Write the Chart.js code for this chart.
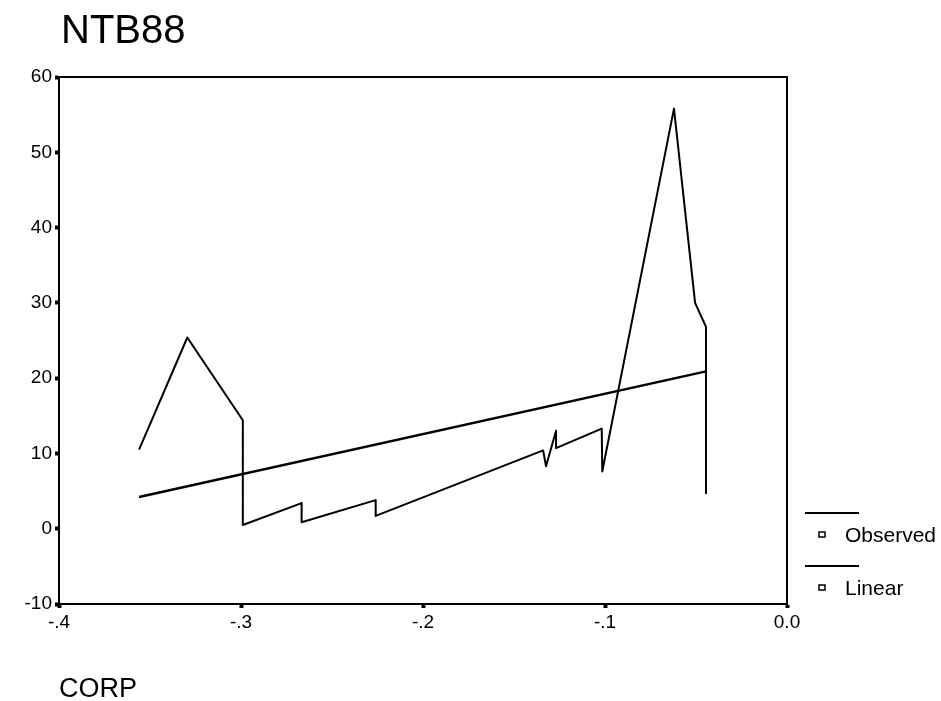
<!DOCTYPE html>
<html>
<head>
<meta charset="utf-8">
<title>NTB88</title>
<script src="https://cdn.jsdelivr.net/npm/chart.js@4/dist/chart.umd.min.js"></script>
<style>
  html, body { margin: 0; padding: 0; background: #fff; }
  canvas { display: block; }
</style>
</head>
<body>
<canvas id="chart" width="941" height="701"></canvas>
<script>
// values
const obsX = [-0.356, -0.3295, -0.299, -0.299, -0.2667, -0.2667, -0.226, -0.226, -0.134, -0.1324, -0.1269, -0.1269, -0.1018, -0.1015, -0.0621, -0.0505, -0.0445, -0.0445];
const obsY = [10.5, 25.4, 14.4, 0.5, 3.4, 0.85, 3.8, 1.7, 10.4, 8.3, 13.0, 10.7, 13.3, 7.6, 55.8, 30.0, 26.8, 4.7];
const linX = [-0.356, -0.0445];
const linY = [4.2, 20.9];
const xTickLabels = ["-.4", "-.3", "-.2", "-.1", "0.0"];
const yTickLabels = ["-10", "0", "10", "20", "30", "40", "50", "60"];
const seriesNames = ["Observed", "Linear"];

const FONT = "'Liberation Sans', Arial, sans-serif";

const toPoints = (xs, ys) => xs.map((x, i) => ({ x: x, y: ys[i] }));

// box around the plot, title, axis name and the legend on the right
const extras = {
  id: "extras",
  beforeDatasetsDraw(chart) {
    const { ctx, chartArea: a } = chart;
    ctx.save();
    ctx.strokeStyle = "#000";
    ctx.lineWidth = 2;
    ctx.strokeRect(a.left, a.top, a.right - a.left, a.bottom - a.top);
    ctx.restore();
  },
  afterDraw(chart) {
    const { ctx, chartArea: a } = chart;
    ctx.save();
    ctx.fillStyle = "#000";
    ctx.strokeStyle = "#000";

    ctx.font = "40px " + FONT;
    ctx.textBaseline = "alphabetic";
    ctx.textAlign = "left";
    ctx.fillText("NTB88", a.left + 2, 43);

    ctx.font = "27px " + FONT;
    ctx.fillText("CORP", a.left, a.bottom + 93);

    // legend: a line, then a small square with the name
    ctx.font = "21px " + FONT;
    ctx.textBaseline = "middle";
    seriesNames.forEach((name, i) => {
      const y0 = a.bottom - 91 + i * 53;
      ctx.lineWidth = 2;
      ctx.beginPath();
      ctx.moveTo(a.right + 18, y0);
      ctx.lineTo(a.right + 72, y0);
      ctx.stroke();
      ctx.lineWidth = 1.5;
      ctx.strokeRect(a.right + 32, y0 + 19, 6, 5);
      ctx.fillText(name, a.right + 58, y0 + 23);
    });
    ctx.restore();
  }
};

const ctx = document.getElementById("chart").getContext("2d");

new Chart(ctx, {
  type: "scatter",
  data: {
    datasets: [
      {
        label: seriesNames[0],
        data: toPoints(obsX, obsY),
        showLine: true,
        borderColor: "#000",
        borderWidth: 2,
        borderJoinStyle: "round",
        pointRadius: 0,
        tension: 0
      },
      {
        label: seriesNames[1],
        data: toPoints(linX, linY),
        showLine: true,
        borderColor: "#000",
        borderWidth: 2.5,
        pointRadius: 0,
        tension: 0
      }
    ]
  },
  options: {
    responsive: false,
    animation: false,
    layout: { padding: { left: 0, top: 77, right: 154, bottom: 67 } },
    plugins: {
      legend: { display: false },
      tooltip: { enabled: false }
    },
    scales: {
      x: {
        type: "linear",
        min: -0.4,
        max: 0,
        afterFit: (s) => { s.height = 30; },
        border: { display: true, color: "#000", width: 2 },
        grid: { drawOnChartArea: false, drawTicks: true, tickLength: 4, tickWidth: 4, color: "#000" },
        ticks: {
          stepSize: 0.1,
          color: "#000",
          padding: 3,
          font: { family: FONT, size: 19 },
          callback: (v, i) => xTickLabels[i]
        }
      },
      y: {
        min: -10,
        max: 60,
        afterFit: (s) => { s.width = 59; },
        border: { display: true, color: "#000", width: 2 },
        grid: { drawOnChartArea: false, drawTicks: true, tickLength: 4, tickWidth: 4, color: "#000" },
        ticks: {
          stepSize: 10,
          color: "#000",
          padding: 3,
          font: { family: FONT, size: 19 },
          callback: (v, i) => yTickLabels[i]
        }
      }
    }
  },
  plugins: [extras]
});
</script>
</body>
</html>
